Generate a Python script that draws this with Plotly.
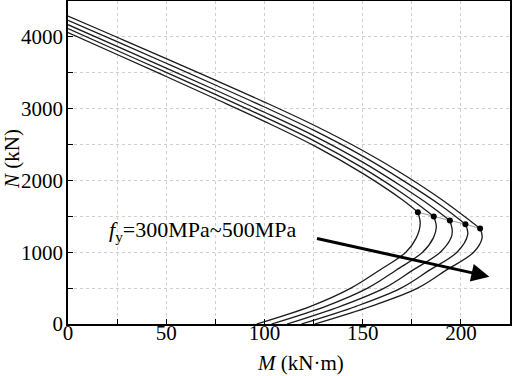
import plotly.graph_objects as go

# Yield strengths (MPa)
fy_values = [300, 350, 400, 450, 500]

# Balance points (M in kN·m, N in kN)
bal_M = [178.1, 186.2, 194.4, 202.3, 209.8]
bal_N = [1558, 1497, 1441, 1391, 1329]

# Upper (compression-controlled) branches, ending at the balance point
up_M_300 = [0, 25, 50, 75, 100, 125, 150, 170]
up_N_300 = [4060, 3755, 3448, 3138, 2823, 2488, 2098, 1734]
up_M_350 = [0, 25, 50, 75, 100, 125, 150, 170, 180]
up_N_350 = [4115, 3810, 3505, 3198, 2885, 2555, 2175, 1825, 1630]
up_M_400 = [0, 25, 50, 75, 100, 125, 150, 170, 185]
up_N_400 = [4170, 3868, 3565, 3260, 2950, 2625, 2255, 1915, 1638]
up_M_450 = [0, 25, 50, 75, 100, 125, 150, 170, 190]
up_N_450 = [4230, 3933, 3633, 3330, 3023, 2700, 2338, 2008, 1648]
up_M_500 = [0, 25, 50, 75, 100, 125, 150, 170, 190]
up_N_500 = [4290, 3995, 3697, 3397, 3092, 2772, 2417, 2097, 1737]

# Lower (tension-controlled) branches, starting below the balance point
lo_N_300 = [1400, 1200, 1000, 750, 500, 250, 0]
lo_M_300 = [179.3, 177.3, 172.0, 158.6, 144.0, 123.8, 96.0]
lo_N_350 = [1350, 1200, 1000, 750, 500, 250, 0]
lo_M_350 = [187.5, 186.0, 180.5, 167.0, 152.5, 131.5, 103.6]
lo_N_400 = [1300, 1200, 1000, 750, 500, 250, 0]
lo_M_400 = [195.6, 195.0, 189.5, 175.5, 161.0, 139.0, 111.5]
lo_N_450 = [1250, 1000, 750, 500, 250, 0]
lo_M_450 = [203.5, 198.0, 184.0, 169.5, 147.0, 118.8]
lo_N_500 = [1200, 1000, 750, 500, 250, 0]
lo_M_500 = [210.8, 206.5, 192.5, 178.0, 154.5, 125.6]

x_ticks = [0, 50, 100, 150, 200]
y_ticks = [0, 1000, 2000, 3000, 4000]

upper = [(up_M_300, up_N_300), (up_M_350, up_N_350), (up_M_400, up_N_400),
         (up_M_450, up_N_450), (up_M_500, up_N_500)]
lower = [(lo_M_300, lo_N_300), (lo_M_350, lo_N_350), (lo_M_400, lo_N_400),
         (lo_M_450, lo_N_450), (lo_M_500, lo_N_500)]

FONT = "Liberation Serif"

fig = go.Figure()
for i, fy in enumerate(fy_values):
    uM, uN = upper[i]
    lM, lN = lower[i]
    fig.add_trace(go.Scatter(
        x=list(uM) + [bal_M[i]], y=list(uN) + [bal_N[i]],
        mode="lines", line=dict(color="#1a1a1a", width=1.3, shape="spline", smoothing=1.0),
        showlegend=False, hoverinfo="skip", name=f"{fy} MPa"))
    fig.add_trace(go.Scatter(
        x=[bal_M[i]] + list(lM), y=[bal_N[i]] + list(lN),
        mode="lines", line=dict(color="#1a1a1a", width=1.3, shape="spline", smoothing=1.0),
        showlegend=False, hoverinfo="skip", name=f"{fy} MPa"))

fig.add_trace(go.Scatter(
    x=bal_M, y=bal_N, mode="lines+markers",
    line=dict(color="#9a9a9a", width=1),
    marker=dict(color="black", size=6),
    showlegend=False, hoverinfo="skip"))

# Arrow
fig.add_annotation(x=214.5, y=660, ax=126, ay=1195, xref="x", yref="y",
                   axref="x", ayref="y", text="", showarrow=True,
                   arrowhead=2, arrowsize=1.2, arrowwidth=3, arrowcolor="black")
# Label
fig.add_annotation(x=19.8, y=1296, xref="x", yref="y", xanchor="left", yanchor="middle",
                   text="<i>f</i><sub>y</sub>=300MPa~500MPa", showarrow=False,
                   font=dict(family=FONT, size=22, color="black"))

# Axis titles
fig.add_annotation(x=0.525, y=-0.121, xref="paper", yref="paper",
                   xanchor="center", yanchor="middle", showarrow=False,
                   text="<i>M</i> (kN·m)", font=dict(family=FONT, size=21, color="black"))
fig.add_annotation(x=-0.125, y=0.51, xref="paper", yref="paper",
                   xanchor="center", yanchor="middle", showarrow=False, textangle=-90,
                   text="<i>N</i> (kN)", font=dict(family=FONT, size=21, color="black"))

axis_common = dict(
    showline=True, linecolor="black", linewidth=1.5, mirror=True,
    ticks="inside", ticklen=5, tickwidth=1.2, tickcolor="black",
    showgrid=True, gridcolor="#cfcfcf", griddash="dot", gridwidth=1,
    zeroline=False, tickfont=dict(family=FONT, size=21, color="black"),
    automargin=False,
)

fig.update_xaxes(range=[0, 225], tickvals=x_ticks, ticklabelstandoff=-11,
                 minor=dict(dtick=25, ticks="inside", ticklen=5, tickcolor="black",
                            showgrid=True, gridcolor="#cfcfcf", griddash="dot"),
                 **axis_common)
fig.update_yaxes(range=[0, 4500], tickvals=y_ticks, ticklabelstandoff=-1,
                 minor=dict(dtick=500, ticks="inside", ticklen=5, tickcolor="black",
                            showgrid=True, gridcolor="#cfcfcf", griddash="dot"),
                 **axis_common)

fig.update_layout(
    width=512, height=376,
    margin=dict(l=68, r=2, t=1, b=52),
    paper_bgcolor="white", plot_bgcolor="white",
    font=dict(family=FONT, color="black"),
)

fig.write_html("out.html", config={"displayModeBar": False},
               post_script="document.body.style.margin='0';")
